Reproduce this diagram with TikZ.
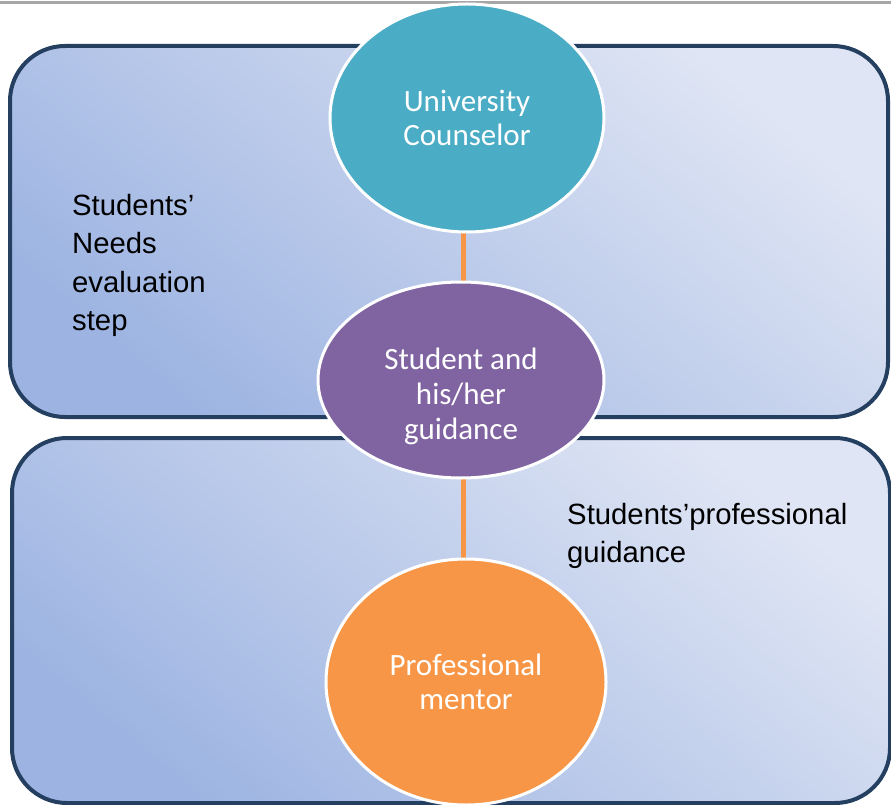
\documentclass[tikz,border=0pt]{standalone}
\usepackage{fontspec}
\setmainfont{Liberation Sans}
\newfontfamily\calfont{Carlito}
\usetikzlibrary{shapes.geometric}
\pgfdeclarelayer{bg}
\pgfsetlayers{bg,main}
\definecolor{boxline}{HTML}{243F60}
\definecolor{shadeDark}{HTML}{9DB4E2}
\definecolor{shadeLight}{HTML}{DFE5F4}
\definecolor{ucblue}{HTML}{4BACC6}
\definecolor{stpurple}{HTML}{8064A2}
\definecolor{pmorange}{HTML}{F79646}
\tikzset{
  panel/.style={draw=boxline, line width=4pt, rounded corners=55pt,
    top color=shadeLight, bottom color=shadeDark, shading angle=-40},
  bubble/.style={ellipse, draw=white, line width=3pt, inner sep=0pt,
    text=white, align=center, font=\calfont\fontsize{31}{34}\selectfont},
  bubbletext/.style={text=white, align=center, inner sep=0pt,
    font=\calfont\fontsize{31}{35}\selectfont},
  link/.style={draw=pmorange, line width=5pt},
  lbl/.style={align=left, anchor=north west, inner sep=0pt,
    font=\fontsize{29.3}{38.5}\selectfont}
}
\begin{document}
\begin{tikzpicture}[x=1pt,y=-1pt]
\useasboundingbox (0,0) rectangle (891,805);
% ellipses
\node[bubble, fill=ucblue, minimum width=274pt, minimum height=228pt] (uc) at (467,118) {University\\Counselor};
\node[bubble, fill=stpurple, minimum width=286pt, minimum height=196pt] (sg) at (461,380) {};
\node[bubbletext] (sgt) at (461,396) {Student and\\his/her\\guidance};
\node[bubble, fill=pmorange, minimum width=280pt, minimum height=246pt] (pm) at (466,682) {Professional\\mentor};
\coordinate (axis) at (463,0);
\begin{pgfonlayer}{bg}
\fill[white] (0,0) rectangle (891,805);
\draw[gray!70, line width=3pt] (0,3) -- (891,3);
% panels
\shade[panel] (10,46) rectangle (888,417);
\shade[panel] (12,438) rectangle (890,803);
% connectors
\draw[link] (uc.center -| axis) -- (sg.center -| axis);
\draw[link] (sg.center -| axis) -- (pm.center -| axis);
\end{pgfonlayer}
% labels
\node[lbl] (l1) at (72,194) {Students’\\Needs\\evaluation\\step};
\node[lbl] (l2) at (567,503) {Students’professional\\guidance};
\end{tikzpicture}
\end{document}
